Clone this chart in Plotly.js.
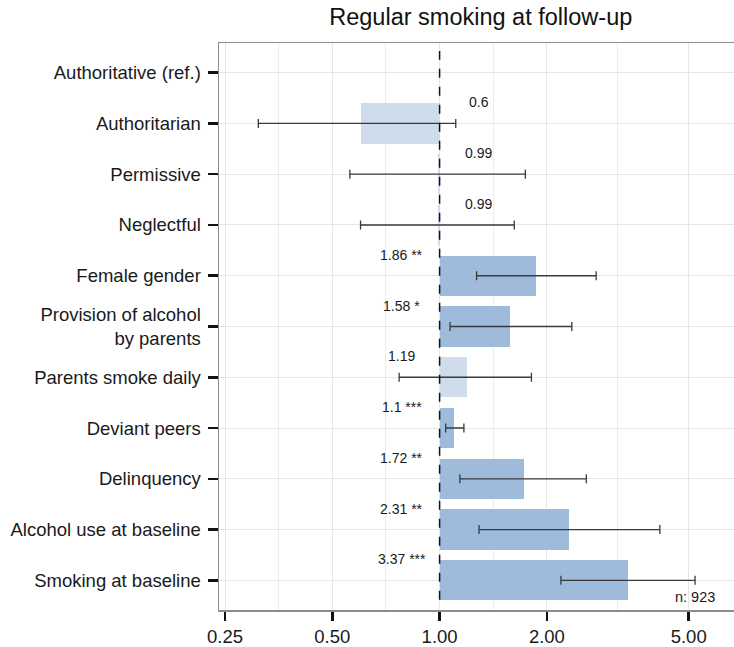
<!DOCTYPE html>
<html>
<head>
<meta charset="utf-8">
<script src="https://cdn.plot.ly/plotly-3.0.1.min.js"></script>
<style>html,body{margin:0;padding:0;background:#fff;}#chart{width:734px;height:647px;}</style>
</head>
<body>
<div id="chart"></div>
<script>
const categories = ["Authoritative (ref.)", "Authoritarian", "Permissive", "Neglectful", "Female gender",
  "Provision of alcohol<br>by parents", "Parents smoke daily", "Deviant peers", "Delinquency",
  "Alcohol use at baseline", "Smoking at baseline"];
const oddsRatios = [1, 0.6, 0.99, 0.99, 1.86, 1.58, 1.19, 1.1, 1.72, 2.31, 3.37];
const ciLow  = [null, 0.31, 0.56, 0.60, 1.27, 1.07, 0.77, 1.04, 1.14, 1.29, 2.19];
const ciHigh = [null, 1.11, 1.74, 1.62, 2.75, 2.35, 1.81, 1.17, 2.58, 4.15, 5.21];
const stars  = ["", "", "", "", "**", "*", "", "***", "**", "**", "***"];
const isReference = [true, false, false, false, false, false, false, false, false, false, false];
const xTickVals = [0.25, 0.5, 1, 2, 5];
const xTickText = ["0.25", "0.50", "1.00", "2.00", "5.00"];
const xMinorVals = [0.3536, 0.7071, 1.4142, 3.1623];
const title = "Regular smoking at follow-up";
const sampleSize = "n: 923";

const darkBar = "#9fbbdb";
const lightBar = "#cfdcec";
const barColors = stars.map(s => s ? darkBar : lightBar);

const bars = {
  type: "bar", orientation: "h",
  y: categories,
  x: oddsRatios.map(v => v - 1),
  base: 1,
  width: 0.79,
  marker: {color: barColors, line: {width: 0}},
  hoverinfo: "skip",
  showlegend: false
};

const errs = {
  type: "scatter", mode: "markers",
  y: categories,
  x: oddsRatios.map((v, i) => isReference[i] ? null : v),
  marker: {size: 1, opacity: 0},
  error_x: {
    type: "data", symmetric: false,
    array: oddsRatios.map((v, i) => ciHigh[i] == null ? NaN : ciHigh[i] - v),
    arrayminus: oddsRatios.map((v, i) => ciLow[i] == null ? NaN : v - ciLow[i]),
    color: "#3a3a3a", thickness: 1.3, width: 4.5
  },
  hoverinfo: "skip",
  showlegend: false
};

const annotations = [];
categories.forEach((c, i) => {
  if (isReference[i]) return;
  const txt = String(oddsRatios[i]) + (stars[i] ? " " + stars[i] : "");
  annotations.push({
    xref: "x", yref: "y", x: Math.log10(1), y: i,
    text: txt, showarrow: false,
    xanchor: "center", yanchor: "middle",
    xshift: oddsRatios[i] < 1 ? 39 : -38, yshift: 21,
    font: {family: "Liberation Sans, Arial, sans-serif", size: 14, color: "#1a1a1a"}
  });
});
annotations.push({
  xref: "paper", yref: "paper", x: 0.967, y: 0.0235,
  text: sampleSize, showarrow: false, xanchor: "right", yanchor: "middle",
  font: {family: "Liberation Sans, Arial, sans-serif", size: 14.5, color: "#1a1a1a"}
});

const layout = {
  width: 734, height: 647,
  margin: {l: 219, r: 0, t: 43, b: 37, pad: 0},
  paper_bgcolor: "#fff", plot_bgcolor: "#fff",
  font: {family: "Liberation Sans, Arial, sans-serif", size: 18, color: "#1a1a1a"},
  title: {text: title, x: 0.655, xref: "container", y: 1 - 17/647, yref: "container",
          xanchor: "center", yanchor: "middle",
          font: {size: 23.5, color: "#111"}},
  xaxis: {
    type: "log",
    range: [-0.619, 0.8261],
    tickmode: "array", tickvals: xTickVals, ticktext: xTickText,
    ticks: "outside", ticklen: 9, tickwidth: 2.5, tickcolor: "#111",
    showgrid: true, gridcolor: "#e6e6e6", gridwidth: 1,
    minor: {tickmode: "array", tickvals: xMinorVals, showgrid: true, gridcolor: "#ececec", gridwidth: 1, ticks: ""},
    showline: true, linecolor: "#8c8c8c", linewidth: 1.5, mirror: true,
    zeroline: false,
    tickfont: {size: 18.5, color: "#1a1a1a"}
  },
  yaxis: {
    type: "category",
    categoryorder: "array", categoryarray: categories,
    range: [10.585, -0.585],
    ticks: "outside", ticklen: 10, tickwidth: 2.5, tickcolor: "#111",
    ticklabelstandoff: 3,
    showgrid: true, gridcolor: "#e6e6e6", gridwidth: 1,
    showline: true, linecolor: "#8c8c8c", linewidth: 1.5, mirror: true,
    zeroline: false,
    tickfont: {size: 18.5, color: "#1a1a1a"}
  },
  shapes: [{
    type: "line", xref: "x", yref: "paper",
    x0: 1, x1: 1, y0: 0.018, y1: 0.986,
    line: {color: "#111", width: 1.5, dash: "dash"}
  }],
  annotations: annotations,
  bargap: 0,
  showlegend: false
};

Plotly.newPlot("chart", [bars, errs], layout, {displayModeBar: false, staticPlot: true});
</script>
</body>
</html>
